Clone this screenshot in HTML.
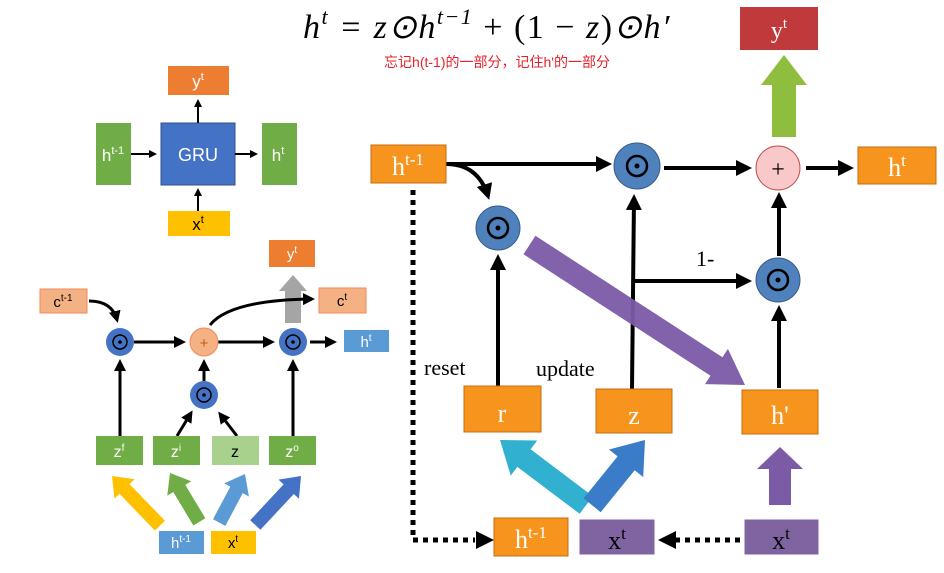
<!DOCTYPE html>
<html><head><meta charset="utf-8"><style>
html,body{margin:0;padding:0;background:#fff;width:944px;height:573px;overflow:hidden}
svg{display:block}
.t{font-family:"Liberation Serif",serif}
.s{font-family:"Liberation Sans",sans-serif}
</style></head><body>
<svg width="944" height="573" viewBox="0 0 944 573" xmlns="http://www.w3.org/2000/svg">
<defs>
<marker id="ah" markerWidth="4" markerHeight="4" refX="3" refY="2" orient="auto" markerUnits="strokeWidth"><path d="M0,0 L4,2 L0,4 z" fill="#000"/></marker>
<marker id="ah2" markerWidth="4" markerHeight="4" refX="3" refY="2" orient="auto" markerUnits="strokeWidth"><path d="M0,0 L4,2 L0,4 z" fill="#000"/></marker>
</defs>

<!-- formula -->
<text x="487" y="38" text-anchor="middle" class="t" font-size="34" font-style="italic" letter-spacing="1.5">h<tspan dy="-14" font-size="22">t</tspan><tspan dy="14"> = z⊙h</tspan><tspan dy="-14" font-size="22">t−1</tspan><tspan dy="14" font-style="normal"> + (1 − </tspan>z<tspan font-style="normal">)</tspan>⊙h′</text>
<text x="497" y="67" text-anchor="middle" font-family="Liberation Sans,'Noto Sans CJK SC',sans-serif" font-size="14" fill="#e8202a">忘记h(t-1)的一部分，记住h'的一部分</text>

<!-- top-left GRU -->
<rect x="96" y="123" width="35" height="62" fill="#70ad47"/>
<text x="113" y="161" text-anchor="middle" class="s" font-size="17" fill="#fff">h<tspan dy="-7" font-size="11">t-1</tspan></text>
<rect x="161" y="123" width="74" height="62" fill="#4472c4" stroke="#2f528f"/>
<text x="198" y="161" text-anchor="middle" class="s" font-size="18" fill="#fff">GRU</text>
<rect x="262" y="123" width="35" height="62" fill="#70ad47"/>
<text x="278" y="161" text-anchor="middle" class="s" font-size="17" fill="#fff">h<tspan dy="-7" font-size="11">t</tspan></text>
<rect x="168" y="66" width="61" height="29" fill="#ed7d31"/>
<text x="198" y="87" text-anchor="middle" class="s" font-size="17" fill="#fff">y<tspan dy="-7" font-size="11">t</tspan></text>
<rect x="168" y="211" width="62" height="25" fill="#ffc000"/>
<text x="198" y="230" text-anchor="middle" class="s" font-size="17" fill="#000">x<tspan dy="-7" font-size="11">t</tspan></text>
<g stroke="#000" stroke-width="2">
<line x1="131" y1="154" x2="155" y2="154" marker-end="url(#ah)"/>
<line x1="235" y1="154" x2="256" y2="154" marker-end="url(#ah)"/>
<line x1="198" y1="123" x2="198" y2="101" marker-end="url(#ah)"/>
<line x1="198" y1="211" x2="198" y2="190" marker-end="url(#ah)"/>
</g>

<!-- bottom-left LSTM -->
<rect x="40" y="289" width="47" height="24" fill="#f4b183" stroke="#f08a5d"/>
<text x="63" y="307" text-anchor="middle" class="s" font-size="15">c<tspan dy="-6" font-size="10">t-1</tspan></text>
<rect x="319" y="288" width="47" height="25" fill="#f4b183" stroke="#f08a5d"/>
<text x="342" y="306" text-anchor="middle" class="s" font-size="15">c<tspan dy="-6" font-size="10">t</tspan></text>
<rect x="344" y="330" width="45" height="22" fill="#5b9bd5"/>
<text x="366" y="347" text-anchor="middle" class="s" font-size="15" fill="#fff">h<tspan dy="-6" font-size="10">t</tspan></text>
<rect x="269" y="240" width="46" height="27" fill="#ed7d31"/>
<text x="292" y="259" text-anchor="middle" class="s" font-size="15" fill="#fff">y<tspan dy="-6" font-size="10">t</tspan></text>
<g transform="translate(293,275)"><polygon points="0,0 14,16 8,16 8,48 -8,48 -8,16 -14,16" fill="#a5a5a5"/></g>
<g stroke="#000" stroke-width="3" fill="none">
<path d="M89,301 Q112,301 117,320" marker-end="url(#ah2)"/>
<line x1="134" y1="342" x2="183" y2="342" marker-end="url(#ah2)"/>
<line x1="218" y1="342" x2="272" y2="342" marker-end="url(#ah2)"/>
<line x1="310" y1="342" x2="334" y2="342" marker-end="url(#ah2)"/>
<path d="M210,325 Q230,300 312,299" marker-end="url(#ah2)"/>
<line x1="120" y1="436" x2="120" y2="362" marker-end="url(#ah2)"/>
<line x1="293" y1="436" x2="293" y2="362" marker-end="url(#ah2)"/>
<line x1="204" y1="381" x2="204" y2="362" marker-end="url(#ah2)"/>
<line x1="177" y1="436" x2="191" y2="413" marker-end="url(#ah2)"/>
<line x1="237" y1="436" x2="220" y2="414" marker-end="url(#ah2)"/>
</g>
<g>
<circle cx="120" cy="342" r="14" fill="#4472c4"/><circle cx="120" cy="342" r="7" fill="none" stroke="#000" stroke-width="1.5"/><circle cx="120" cy="342" r="1.8"/>
<circle cx="204" cy="342" r="14" fill="#f4b183" stroke="#f08a5d"/><text x="204" y="348" text-anchor="middle" class="s" font-size="15" fill="#c55a11">+</text>
<circle cx="293" cy="342" r="14" fill="#4472c4"/><circle cx="293" cy="342" r="7" fill="none" stroke="#000" stroke-width="1.5"/><circle cx="293" cy="342" r="1.8"/>
<circle cx="204" cy="395" r="14" fill="#4472c4"/><circle cx="204" cy="395" r="7" fill="none" stroke="#000" stroke-width="1.5"/><circle cx="204" cy="395" r="1.8"/>
</g>
<rect x="96" y="436" width="47" height="29" fill="#70ad47"/><text x="119" y="457" text-anchor="middle" class="s" font-size="16" fill="#fff">z<tspan dy="-6" font-size="10">f</tspan></text>
<rect x="153" y="436" width="47" height="29" fill="#70ad47"/><text x="176" y="457" text-anchor="middle" class="s" font-size="16" fill="#fff">z<tspan dy="-6" font-size="10">i</tspan></text>
<rect x="212" y="436" width="47" height="29" fill="#a9d18e"/><text x="235" y="457" text-anchor="middle" class="s" font-size="16">z</text>
<rect x="269" y="436" width="47" height="29" fill="#70ad47"/><text x="292" y="457" text-anchor="middle" class="s" font-size="16" fill="#fff">z<tspan dy="-6" font-size="10">o</tspan></text>
<g transform="translate(112,476) rotate(-44)"><polygon points="0,0 14,18 7,18 7,69 -7,69 -7,18 -14,18" fill="#ffc000"/></g>
<g transform="translate(170,473) rotate(-31)"><polygon points="0,0 14,18 7,18 7,57 -7,57 -7,18 -14,18" fill="#70ad47"/></g>
<g transform="translate(245,474) rotate(28)"><polygon points="0,0 14,18 7,18 7,55 -7,55 -7,18 -14,18" fill="#5b9bd5"/></g>
<g transform="translate(301,476) rotate(43)"><polygon points="0,0 14,18 7,18 7,67 -7,67 -7,18 -14,18" fill="#4472c4"/></g>
<rect x="159" y="531" width="45" height="23" fill="#5b9bd5"/><text x="181" y="548" text-anchor="middle" class="s" font-size="15" fill="#fff">h<tspan dy="-6" font-size="10">t-1</tspan></text>
<rect x="211" y="531" width="45" height="23" fill="#ffc000"/><text x="233" y="548" text-anchor="middle" class="s" font-size="15">x<tspan dy="-6" font-size="10">t</tspan></text>

<!-- right GRU detail -->
<rect x="740" y="7" width="78" height="43" fill="#c0393b"/>
<text x="779" y="38" text-anchor="middle" class="t" font-size="24" fill="#fff">y<tspan dy="-10" font-size="15">t</tspan></text>
<g transform="translate(784,55)"><polygon points="0,0 23,30 12,30 12,82 -12,82 -12,30 -23,30" fill="#8fbd3e"/></g>

<g stroke="#000" stroke-width="4" fill="none">
<line x1="446" y1="164" x2="608" y2="164" marker-end="url(#ah2)"/>
<path d="M446,164 Q478,164 488,196" marker-end="url(#ah2)"/>
<line x1="664" y1="168" x2="748" y2="168" marker-end="url(#ah2)"/>
<line x1="806" y1="168" x2="850" y2="168" marker-end="url(#ah2)"/>
<line x1="779" y1="256" x2="779" y2="196" marker-end="url(#ah2)"/>
<line x1="779" y1="388" x2="779" y2="309" marker-end="url(#ah2)"/>
<line x1="498" y1="386" x2="498" y2="258" marker-end="url(#ah2)"/>
<line x1="632" y1="389" x2="634" y2="198" marker-end="url(#ah2)"/>
<line x1="634" y1="281" x2="748" y2="281" marker-end="url(#ah2)"/>
</g>
<g transform="translate(745,385) rotate(123)"><polygon points="0,0 21,34 11,34 11,257 -11,257 -11,34 -21,34" fill="#7b5ba6" opacity="0.95"/></g>

<circle cx="637" cy="166" r="23" fill="#4f81bd" stroke="#385d8a"/><circle cx="637" cy="166" r="10" fill="none" stroke="#000" stroke-width="2.5"/><circle cx="637" cy="166" r="2.5"/>
<circle cx="778" cy="168" r="22" fill="#f9c9c9" stroke="#c0504d"/><text x="778" y="177" text-anchor="middle" class="t" font-size="24">+</text>
<circle cx="498" cy="228" r="22" fill="#4f81bd" stroke="#385d8a"/><circle cx="498" cy="228" r="10" fill="none" stroke="#000" stroke-width="2.5"/><circle cx="498" cy="228" r="2.5"/>
<circle cx="778" cy="280" r="22" fill="#4f81bd" stroke="#385d8a"/><circle cx="778" cy="280" r="10" fill="none" stroke="#000" stroke-width="2.5"/><circle cx="778" cy="280" r="2.5"/>

<text x="696" y="266" class="t" font-size="22">1-</text>
<text x="424" y="375" class="t" font-size="22">reset</text>
<text x="536" y="376" class="t" font-size="22">update</text>

<rect x="371" y="145" width="75" height="38" fill="#f7941d" stroke="#c46d10"/>
<text x="408" y="175" text-anchor="middle" class="t" font-size="26" fill="#fff">h<tspan dy="-10" font-size="17">t-1</tspan></text>
<rect x="858" y="147" width="78" height="37" fill="#f7941d" stroke="#c46d10"/>
<text x="897" y="176" text-anchor="middle" class="t" font-size="26" fill="#fff">h<tspan dy="-10" font-size="17">t</tspan></text>
<rect x="464" y="386" width="77" height="46" fill="#f7941d" stroke="#c46d10"/>
<text x="502" y="422" text-anchor="middle" class="t" font-size="26" fill="#fff">r</text>
<rect x="596" y="389" width="76" height="44" fill="#f7941d" stroke="#c46d10"/>
<text x="634" y="424" text-anchor="middle" class="t" font-size="26" fill="#fff">z</text>
<rect x="742" y="390" width="76" height="44" fill="#f7941d" stroke="#c46d10"/>
<text x="780" y="424" text-anchor="middle" class="t" font-size="26" fill="#fff">h'</text>

<g transform="translate(500,440) rotate(-53)"><polygon points="0,0 22,30 11,30 11,108 -11,108 -11,30 -22,30" fill="#31b0cf"/></g>
<g transform="translate(645,440) rotate(39)"><polygon points="0,0 22,30 11,30 11,84 -11,84 -11,30 -22,30" fill="#3a7cc8"/></g>
<g transform="translate(780,447) rotate(0)"><polygon points="0,0 23,22 11,22 11,58 -11,58 -11,22 -23,22" fill="#7b5ba6"/></g>

<g stroke="#000" stroke-width="5" fill="none" stroke-dasharray="5,5">
<polyline points="413,190 413,540 475,540"/>
<line x1="740" y1="540" x2="676" y2="540"/>
</g>
<polygon points="494,540 476,531 476,549" fill="#000"/>
<polygon points="658,540 676,531 676,549" fill="#000"/>

<rect x="494" y="518" width="74" height="38" fill="#f7941d" stroke="#c46d10"/>
<text x="531" y="548" text-anchor="middle" class="t" font-size="26" fill="#fff">h<tspan dy="-10" font-size="17">t-1</tspan></text>
<rect x="578" y="518" width="78" height="38" fill="#8064a2" stroke="#fff" stroke-width="3"/>
<text x="617" y="549" text-anchor="middle" class="t" font-size="26">x<tspan dy="-10" font-size="17">t</tspan></text>
<rect x="743" y="518" width="77" height="38" fill="#8064a2" stroke="#fff" stroke-width="3"/>
<text x="781" y="549" text-anchor="middle" class="t" font-size="26">x<tspan dy="-10" font-size="17">t</tspan></text>
</svg>
</body></html>
